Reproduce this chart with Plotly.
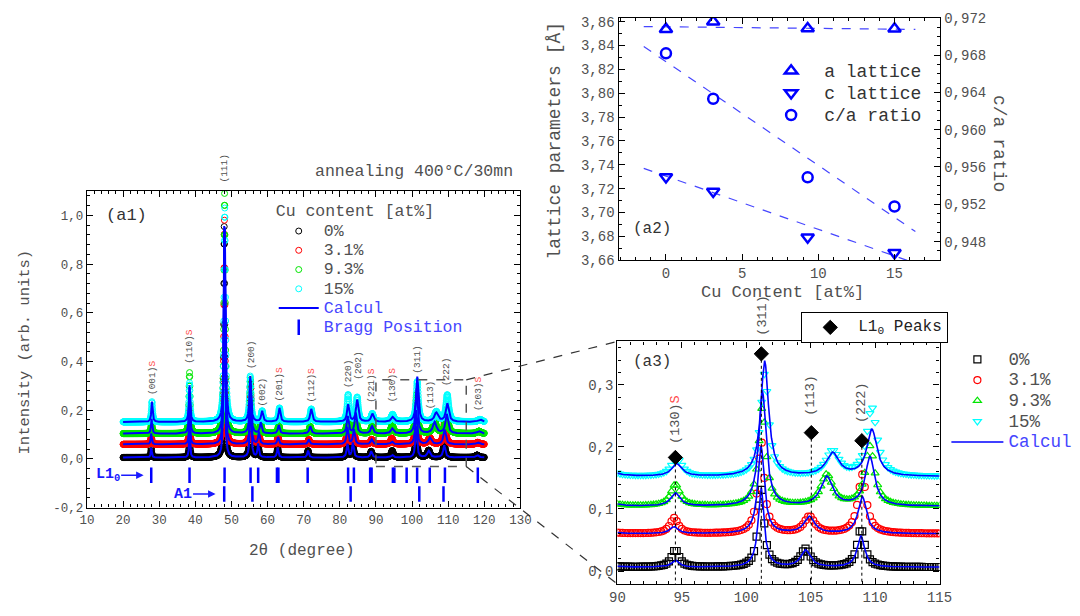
import numpy as np
import plotly.graph_objects as go

FONT = "Liberation Mono"
GREY = "#505050"
BLUE = "#0000ff"
LBLUE = "#4646ff"
W, H = 1080, 616

# ---------------- data ----------------
series_names = ["0%", "3.1%", "9.3%", "15%"]
series_colors = ["#000000", "#ff0000", "#00e600", "#00ffff"]
a3_symbols = ["square-open", "circle-open", "triangle-up-open", "triangle-down-open"]
baselines = [0.006, 0.060, 0.104, 0.152]

peak_hkl = ["(001)", "(110)", "(111)", "(200)", "(002)", "(201)", "(112)", "(220)",
            "(202)", "(221)", "(130)", "(311)", "(113)", "(222)", "(203)"]
superlattice = [1, 1, 0, 0, 0, 1, 1, 0, 0, 1, 1, 0, 0, 0, 1]
peak_width = [0.30, 0.30, 0.35, 0.40, 0.45, 0.45, 0.50, 0.50, 0.55, 0.60, 0.70, 0.55, 0.90, 0.70, 0.90]
width_scale = [1.0, 1.1, 1.25, 1.35]
peak_pos = [
    [27.8, 38.4, 48.00, 55.30, 57.4, 62.8, 71.2, 82.1, 83.6, 88.7, 94.5, 101.15, 104.60, 108.90, 118.0],
    [27.8, 38.4, 48.05, 55.30, 57.6, 62.9, 71.4, 82.1, 83.9, 88.8, 94.4, 101.15, 104.90, 109.00, 118.2],
    [27.9, 38.4, 48.10, 55.25, 58.1, 63.1, 71.8, 82.2, 84.4, 88.9, 94.5, 101.25, 106.25, 109.60, 118.5],
    [28.0, 38.4, 48.15, 55.20, 58.5, 63.3, 72.1, 82.3, 84.8, 89.0, 94.6, 101.43, 106.70, 109.75, 118.8],
]
calc_height = [
    [0.040, 0.120, 0.950, 0.300, 0.055, 0.040, 0.028, 0.055, 0.060, 0.025, 0.011, 0.128, 0.027, 0.050, 0.010],
    [0.045, 0.140, 0.880, 0.240, 0.050, 0.030, 0.020, 0.070, 0.060, 0.020, 0.011, 0.140, 0.027, 0.060, 0.008],
    [0.060, 0.190, 0.840, 0.220, 0.045, 0.035, 0.030, 0.070, 0.085, 0.030, 0.021, 0.185, 0.047, 0.079, 0.010],
    [0.083, 0.150, 0.800, 0.187, 0.044, 0.057, 0.053, 0.070, 0.090, 0.033, 0.020, 0.185, 0.037, 0.075, 0.010],
]
obs_height = [
    [0.040, 0.120, 0.948, 0.300, 0.055, 0.040, 0.028, 0.055, 0.060, 0.025, 0.028, 0.128, 0.029, 0.062, 0.010],
    [0.045, 0.140, 0.920, 0.240, 0.050, 0.030, 0.020, 0.070, 0.060, 0.020, 0.025, 0.150, 0.027, 0.095, 0.008],
    [0.060, 0.250, 0.986, 0.220, 0.045, 0.035, 0.030, 0.070, 0.085, 0.030, 0.035, 0.160, 0.050, 0.096, 0.010],
    [0.083, 0.160, 0.878, 0.187, 0.044, 0.057, 0.053, 0.110, 0.100, 0.033, 0.030, 0.165, 0.040, 0.110, 0.010],
]
# peak-label positions in panel (a1): centre x and bottom y
a1_label_x = [28.0, 38.4, 48.0, 55.4, 58.7, 63.4, 72.1, 82.4, 85.1, 88.8, 94.5, 101.6, 105.1, 109.4, 118.4]
a1_label_y = [0.256, 0.383, 1.125, 0.363, 0.209, 0.229, 0.223, 0.283, 0.316, 0.223, 0.223, 0.343, 0.196, 0.289, 0.189]

# Bragg positions
l10_bragg = [27.8, 38.4, 48.1, 55.3, 57.4, 62.6, 63.0, 71.1, 82.3, 83.9, 88.4, 88.8,
             94.7, 95.1, 98.5, 101.4, 104.9, 109.1, 118.2]
a1_bragg = [48.0, 55.8, 83.0, 102.0, 108.7]
l10_level = -0.067
a1_level = -0.144

# (a3) L1_0 peaks markers and labels
l10_peak_x = [94.5, 101.17, 105.05, 108.97]
l10_peak_y = [0.183, 0.350, 0.223, 0.210]
a3_label_text = ["(130)", "(311)", "(113)", "(222)"]
a3_label_s = [1, 0, 0, 0]
a3_label_x = [94.45, 101.3, 104.98, 108.9]
a3_label_y = [0.202, 0.375, 0.247, 0.236]

# (a2) lattice parameters
cu_content = [0, 3.1, 9.3, 15]
a_lattice = [3.8537, 3.8600, 3.8543, 3.8540]
c_lattice = [3.7298, 3.7176, 3.6793, 3.6662]
ca_ratio = [0.96818, 0.96331, 0.95489, 0.95176]
fit_x = [-1.46, 16.37]
a_fit = [3.8559, 3.8535]
c_fit = [3.7370, 3.6575]
ca_fit = [0.96891, 0.94908]

# tick labels
a1_yticks = [-0.2, 0.0, 0.2, 0.4, 0.6, 0.8, 1.0]
a1_yticktext = ["-0,2", "0,0", "0,2", "0,4", "0,6", "0,8", "1,0"]
a2_lticks = [3.66, 3.68, 3.70, 3.72, 3.74, 3.76, 3.78, 3.80, 3.82, 3.84, 3.86]
a2_lticktext = ["3,66", "3,68", "3,70", "3,72", "3,74", "3,76", "3,78", "3,80", "3,82", "3,84", "3,86"]
a2_rticks = [0.948, 0.952, 0.956, 0.960, 0.964, 0.968, 0.972]
a2_rticktext = ["0,948", "0,952", "0,956", "0,960", "0,964", "0,968", "0,972"]
a3_yticks = [0.0, 0.1, 0.2, 0.3]
a3_yticktext = ["0,0", "0,1", "0,2", "0,3"]


def profile(x, s, heights):
    y = np.full_like(x, baselines[s])
    for p, h, w in zip(peak_pos[s], heights[s], peak_width):
        hw = w * width_scale[s] / 2.0
        y = y + h / (1.0 + ((x - p) / hw) ** 2)
    return y


# ---------------- layout geometry (pixels) ----------------
A1_X, A1_Y = (80.5, 522.6), (189.0, 514.0)
A2_X, A2_Y = (622.7, 950.7), (11.0, 260.0)
A3_X, A3_Y = (621.5, 950.0), (343.3, 592.5)
A1_XR, A1_YR = [10, 130], [-0.2, 1.1]
A3_XR, A3_YR = [90, 115], [-0.021, 0.37]


def dx(a):
    return [a[0] / W, a[1] / W]


def dy(a):
    return [1 - a[1] / H, 1 - a[0] / H]


def big(text, size, color=None):
    style = "font-size:%spx" % size
    if color:
        style += ";color:%s" % color
    return "<span style='%s'>%s</span>" % (style, text)


fig = go.Figure()

# ---------------- (a1) ----------------
x_obs1 = np.arange(20.0, 120.001, 0.05)
x_calc1 = np.arange(20.0, 120.001, 0.02)
for s in range(4):
    fig.add_trace(go.Scatter(
        x=x_obs1, y=profile(x_obs1, s, obs_height), mode="markers", name=big(series_names[s], 16.5),
        marker=dict(symbol="circle-open", size=6, color=series_colors[s], line=dict(width=1)),
        xaxis="x", yaxis="y", legend="legend"))
for s in range(4):
    fig.add_trace(go.Scatter(
        x=x_calc1, y=profile(x_calc1, s, calc_height), mode="lines",
        name=big("Calcul", 16.5, LBLUE),
        line=dict(color=BLUE, width=2), showlegend=(s == 0),
        xaxis="x", yaxis="y", legend="legend"))
fig.add_trace(go.Scatter(
    x=l10_bragg, y=[l10_level] * len(l10_bragg), mode="markers",
    name=big("Bragg Position", 16.5, LBLUE),
    marker=dict(symbol="line-ns", size=11, line=dict(width=2.5, color=BLUE)),
    xaxis="x", yaxis="y", legend="legend"))
fig.add_trace(go.Scatter(
    x=a1_bragg, y=[a1_level] * len(a1_bragg), mode="markers", showlegend=False,
    marker=dict(symbol="line-ns", size=11, line=dict(width=2.5, color=BLUE)),
    xaxis="x", yaxis="y"))

# ---------------- (a2) ----------------
for fy, ya in ((a_fit, "y2"), (c_fit, "y2"), (ca_fit, "y3")):
    fig.add_trace(go.Scatter(x=fit_x, y=fy, mode="lines", showlegend=False,
                             line=dict(color=LBLUE, width=1.2, dash="dash"), xaxis="x2", yaxis=ya))
fig.add_trace(go.Scatter(x=cu_content, y=a_lattice, mode="markers", name=big("a lattice", 18),
                         marker=dict(symbol="triangle-up-open", size=11, color=BLUE, line=dict(width=2.5)),
                         xaxis="x2", yaxis="y2", legend="legend2"))
fig.add_trace(go.Scatter(x=cu_content, y=c_lattice, mode="markers", name=big("c lattice", 18),
                         marker=dict(symbol="triangle-down-open", size=11, color=BLUE, line=dict(width=2.5)),
                         xaxis="x2", yaxis="y2", legend="legend2"))
fig.add_trace(go.Scatter(x=cu_content, y=ca_ratio, mode="markers", name=big("c/a ratio", 18),
                         marker=dict(symbol="circle-open", size=10, color=BLUE, line=dict(width=2.5)),
                         xaxis="x2", yaxis="y3", legend="legend2"))

# ---------------- (a3) ----------------
x_obs3 = np.arange(90.0, 115.001, 0.2)
x_calc3 = np.arange(90.0, 115.001, 0.02)
for s in range(4):
    fig.add_trace(go.Scatter(
        x=x_obs3, y=profile(x_obs3, s, obs_height), mode="markers", name=big(series_names[s], 17.5),
        marker=dict(symbol=a3_symbols[s], size=7, color=series_colors[s], line=dict(width=1.2)),
        xaxis="x3", yaxis="y4", legend="legend3"))
for s in range(4):
    fig.add_trace(go.Scatter(
        x=x_calc3, y=profile(x_calc3, s, calc_height), mode="lines",
        name=big("Calcul", 17.5, LBLUE),
        line=dict(color=BLUE, width=1.6), showlegend=(s == 3),
        xaxis="x3", yaxis="y4", legend="legend3"))
vx, vy = [], []
for px_, py_ in zip(l10_peak_x, l10_peak_y):
    vx += [px_, px_, None]
    vy += [py_, A3_YR[0], None]
fig.add_trace(go.Scatter(x=vx, y=vy, mode="lines", showlegend=False,
                         line=dict(color="black", width=1, dash="dot"), xaxis="x3", yaxis="y4"))
fig.add_trace(go.Scatter(x=l10_peak_x, y=l10_peak_y, mode="markers",
                         name=big("L1<sub>0</sub> Peaks", 16, "#222222"),
                         marker=dict(symbol="diamond", size=11, color="black",
                                     line=dict(width=1, color="black")),
                         xaxis="x3", yaxis="y4", legend="legend4"))


# ---------------- axes ----------------
def axis_style(size, minor_dtick, mirror="ticks"):
    return dict(showline=True, linecolor="black", linewidth=1.4, mirror=mirror,
                ticks="inside", ticklen=6, tickwidth=1.2, tickcolor="black",
                showgrid=False, zeroline=False,
                tickfont=dict(family=FONT, size=size, color=GREY),
                minor=dict(ticks="inside", ticklen=3, tickwidth=1, tickcolor="black",
                           dtick=minor_dtick, tick0=0))


fig.update_layout(
    xaxis=dict(domain=dx(A1_X), range=A1_XR, anchor="y", tickmode="linear", tick0=10, dtick=10,
               **axis_style(12.5, 2)),
    yaxis=dict(domain=dy(A1_Y), range=A1_YR, anchor="x", tickvals=a1_yticks, ticktext=a1_yticktext,
               **axis_style(12.5, 0.04)),
    xaxis2=dict(domain=dx(A2_X), range=[-3.11, 18.0], anchor="y2", tickvals=[0, 5, 10, 15],
                **axis_style(14, 1)),
    yaxis2=dict(domain=dy(A2_Y), range=[3.66, 3.8633], anchor="x2", tickvals=a2_lticks,
                ticktext=a2_lticktext, **axis_style(14, 0.01, mirror=False)),
    yaxis3=dict(range=[0.946, 0.972], anchor="x2", overlaying="y2", side="right",
                tickvals=a2_rticks, ticktext=a2_rticktext, **axis_style(14, 0.001, mirror=False)),
    xaxis3=dict(domain=dx(A3_X), range=A3_XR, anchor="y4", tickvals=[90, 95, 100, 105, 110, 115],
                **axis_style(14, 1)),
    yaxis4=dict(domain=dy(A3_Y), range=A3_YR, anchor="x3", tickvals=a3_yticks, ticktext=a3_yticktext,
                **axis_style(14, 0.02)),
)


def p2x(px):
    return px / W


def p2y(py):
    return 1 - py / H


legend_common = dict(bgcolor="rgba(0,0,0,0)", xanchor="left", yanchor="top",
                     tracegroupgap=0, itemclick=False)
fig.update_layout(
    legend=dict(x=p2x(271), y=p2y(193), itemwidth=40, font=dict(family=FONT, size=12.5, color=GREY),
                title=dict(text="Cu content [at%]", font=dict(family=FONT, size=16.5, color=GREY)),
                **legend_common),
    legend2=dict(x=p2x(765), y=p2y(49), itemwidth=56, font=dict(family=FONT, size=14.7, color="#333333"),
                 **legend_common),
    legend3=dict(x=p2x(957), y=p2y(346), itemwidth=52, font=dict(family=FONT, size=13.6, color=GREY),
                 **legend_common),
    legend4=dict(x=p2x(809), y=p2y(313), itemwidth=46, font=dict(family=FONT, size=9, color="#222222"),
                 bordercolor="black", borderwidth=1, bgcolor="white", xanchor="left", yanchor="top",
                 itemclick=False),
)

annotations = []


def ann(text, px, py, size, angle=0, color=GREY, xanchor="center", yanchor="middle"):
    annotations.append(dict(text=text, x=p2x(px), y=p2y(py), xref="paper", yref="paper",
                            showarrow=False, textangle=angle, xanchor=xanchor, yanchor=yanchor,
                            font=dict(family=FONT, size=size, color=color)))


ann("annealing 400°C/30mn", 517, 169, 16.5, xanchor="right")
ann("(a1)", 121, 214, 17, color="#333333")
ann("(a2)", 657, 228, 16, color="#333333")
ann("(a3)", 657, 364, 16, color="#333333")
ann("Intensity (arb. units)", 17, 354, 15.5, angle=-90)
ann("2θ (degree)", 300, 558, 16)
ann("lattice parameters [Å]", 558, 137, 18, angle=-90)
ann("c/a ratio", 1010, 140, 18, angle=90)
ann("Cu Content [at%]", 790, 293, 17)

S_RED = "<span style='color:#ff4a4a'>S</span>"


def peak_label(text, x, y, xref, yref, yrange, scale, size):
    # labels above the top of the frame are pinned to the frame and shifted in pixels
    shift = 0
    if y > yrange[1]:
        shift = (y - yrange[1]) * scale
        y = yrange[1]
    annotations.append(dict(text=text, x=x, y=y, xref=xref, yref=yref, yshift=shift,
                            showarrow=False, textangle=-90, xanchor="center", yanchor="bottom",
                            font=dict(family=FONT, size=size, color=GREY)))


a1_scale = (A1_Y[1] - A1_Y[0]) / (A1_YR[1] - A1_YR[0])
a3_scale = (A3_Y[1] - A3_Y[0]) / (A3_YR[1] - A3_YR[0])
for hkl, s, lx, ly in zip(peak_hkl, superlattice, a1_label_x, a1_label_y):
    peak_label(hkl + (S_RED if s else ""), lx, ly, "x", "y", A1_YR, a1_scale, 9.5)
for t, s, lx, ly in zip(a3_label_text, a3_label_s, a3_label_x, a3_label_y):
    peak_label(t + (S_RED if s else ""), lx, ly, "x3", "y4", A3_YR, a3_scale, 13.5)

# phase labels with arrows
annotations.append(dict(text="<b>L1<sub>0</sub></b>", x=25.7, y=l10_level, xref="x", yref="y",
                        showarrow=True, ax=-36, ay=0, arrowhead=2, arrowsize=1, arrowwidth=1.5,
                        arrowcolor="#1a1aff", font=dict(family=FONT, size=15, color="#1a1aff")))
annotations.append(dict(text="<b>A1</b>", x=45.6, y=a1_level, xref="x", yref="y",
                        showarrow=True, ax=-33, ay=0, arrowhead=2, arrowsize=1, arrowwidth=1.5,
                        arrowcolor="#1a1aff", font=dict(family=FONT, size=15, color="#1a1aff")))
fig.update_layout(annotations=annotations)

# zoom box in (a1) and connectors to (a3)
zoom_box_x = [90, 115]
zoom_box_y = [-0.031, 0.325]


def a1_paper(xv, yv):
    fx = (xv - A1_XR[0]) / (A1_XR[1] - A1_XR[0])
    fy = (yv - A1_YR[0]) / (A1_YR[1] - A1_YR[0])
    d_x, d_y = dx(A1_X), dy(A1_Y)
    return d_x[0] + fx * (d_x[1] - d_x[0]), d_y[0] + fy * (d_y[1] - d_y[0])


shapes = [dict(type="rect", xref="x", yref="y", x0=zoom_box_x[0], x1=zoom_box_x[1],
               y0=zoom_box_y[0], y1=zoom_box_y[1],
               line=dict(color="#555555", width=1.5, dash="dash"))]
tx, ty = a1_paper(zoom_box_x[1], zoom_box_y[1])
bx, by = a1_paper(zoom_box_x[1], zoom_box_y[0])
d3x, d3y = dx(A3_X), dy(A3_Y)
shapes.append(dict(type="line", xref="paper", yref="paper", x0=tx, y0=ty, x1=d3x[0], y1=d3y[1],
                   line=dict(color="#333333", width=1.2, dash="dash")))
shapes.append(dict(type="line", xref="paper", yref="paper", x0=bx, y0=by, x1=d3x[0], y1=d3y[0],
                   line=dict(color="#333333", width=1.2, dash="dash")))
fig.update_layout(shapes=shapes)

fig.update_layout(width=W, height=H, margin=dict(l=0, r=0, t=0, b=0),
                  paper_bgcolor="white", plot_bgcolor="rgba(0,0,0,0)",
                  font=dict(family=FONT, color=GREY))

fig.write_html("out.html", config={"displayModeBar": False},
               post_script="document.body.style.margin='0px';document.body.style.overflow='hidden';")
